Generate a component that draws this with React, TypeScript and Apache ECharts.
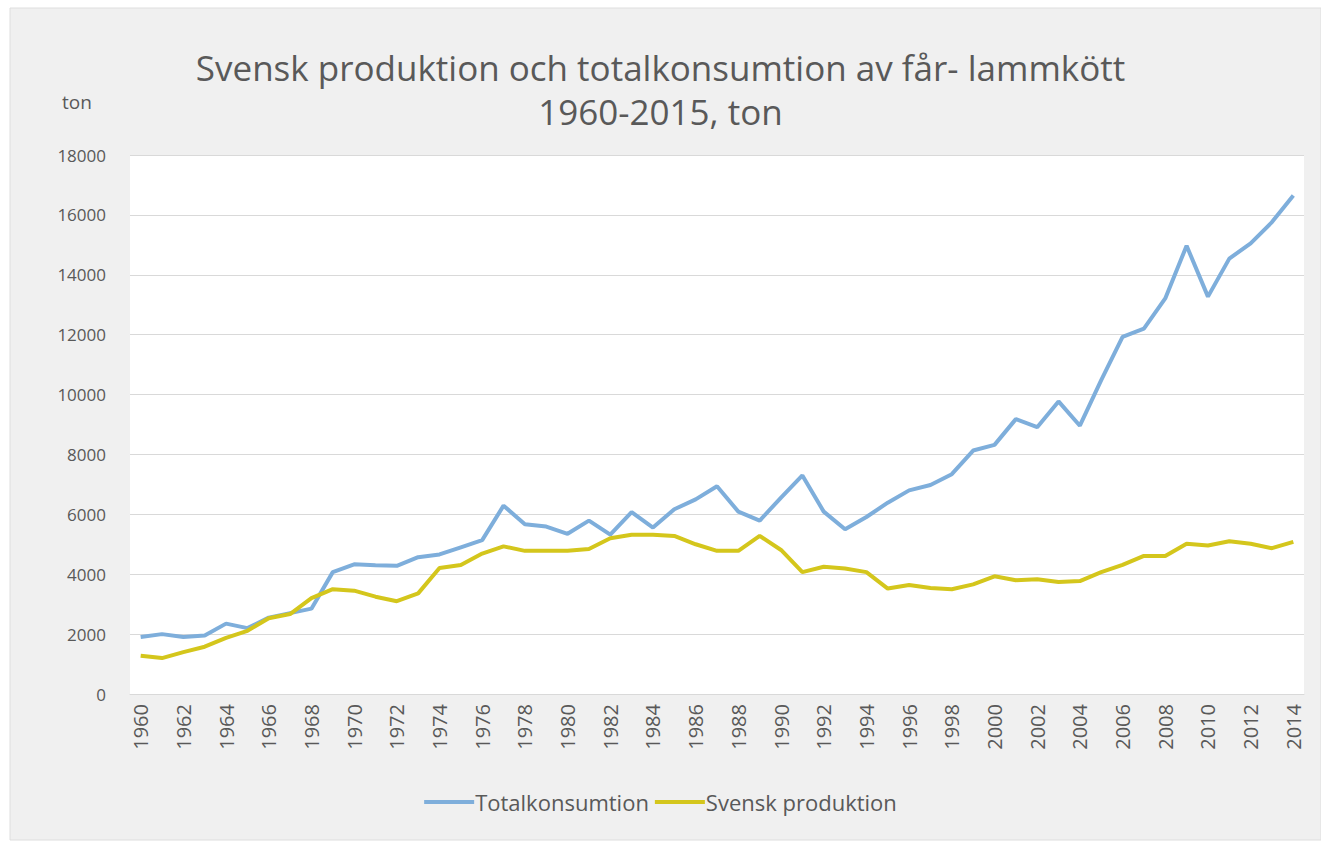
import React, { useEffect, useRef } from "react";
import * as echarts from "echarts";

const years: string[] = [];
for (let y = 1960; y <= 2014; y++) years.push(String(y));

const totalkonsumtion = [
  1900, 2000, 1900, 1950, 2350, 2200, 2550, 2700, 2850, 4070,
  4330, 4300, 4280, 4570, 4660, 4900, 5140, 6290, 5670, 5590,
  5350, 5790, 5320, 6070, 5560, 6170, 6500, 6940, 6090, 5790,
  6560, 7300, 6090, 5500, 5910, 6390, 6800, 6980, 7340, 8130,
  8320, 9180, 8910, 9770, 8960, 10480, 11930, 12200, 13210, 14970,
  13270, 14540, 15050, 15760, 16650,
];

const svenskProduktion = [
  1280, 1200, 1400, 1580, 1875, 2110, 2530, 2670, 3200, 3500,
  3450, 3250, 3100, 3360, 4210, 4310, 4690, 4930, 4780, 4780,
  4780, 4840, 5200, 5320, 5320, 5280, 5000, 4780, 4780, 5280,
  4810, 4070, 4250, 4190, 4070, 3520, 3640, 3540, 3500, 3660,
  3930, 3800, 3830, 3740, 3770, 4070, 4310, 4610, 4610, 5020,
  4960, 5100, 5020, 4870, 5080,
];

const seriesNames = ["Totalkonsumtion", "Svensk produktion"];
const titleLines = ["Svensk produktion och totalkonsumtion av får- lammkött", "1960-2015, ton"];
const yUnit = "ton";

const FONT = '"Open Sans", sans-serif';

export default function App() {
  const ref = useRef<HTMLDivElement>(null);
  useEffect(() => {
    document.body.style.margin = "0";
    document.body.style.background = "#ffffff";
    const chart = echarts.init(ref.current!, undefined, { renderer: "svg" });
    chart.setOption({
      animation: false,
      backgroundColor: "#ffffff",
      graphic: [
        {
          type: "rect",
          z: -10,
          silent: true,
          shape: { x: 10, y: 8, width: 1311, height: 832 },
          style: { fill: "#f0f0f0", stroke: "#dedede", lineWidth: 1 },
        },
        {
          type: "text",
          left: 62,
          top: 92,
          style: { text: yUnit, fontSize: 19, fill: "#595959", fontFamily: FONT },
        },
      ],
      title: {
        text: titleLines.join("\n"),
        left: "center",
        top: 40,
        textStyle: {
          fontSize: 35,
          fontWeight: "normal",
          color: "#595959",
          fontFamily: FONT,
          lineHeight: 44,
        },
      },
      legend: {
        bottom: 24,
        left: "center",
        itemWidth: 50,
        itemHeight: 4,
        itemGap: 6,
        icon: "rect",
        textStyle: { fontSize: 22, color: "#595959", fontFamily: FONT, padding: [0, 0, 0, -4] },
        data: seriesNames,
      },
      grid: {
        left: 130,
        right: 17,
        top: 155,
        bottom: 148,
        show: true,
        backgroundColor: "#ffffff",
        borderWidth: 0,
      },
      xAxis: {
        type: "category",
        data: years,
        boundaryGap: true,
        axisLine: { show: true, lineStyle: { color: "#d9d9d9", width: 1 } },
        axisTick: { show: false },
        axisLabel: {
          rotate: 90,
          interval: 1,
          fontSize: 20,
          color: "#595959",
          fontFamily: FONT,
          margin: 10,
        },
      },
      yAxis: {
        type: "value",
        min: 0,
        max: 18000,
        interval: 2000,
        axisLine: { show: false },
        axisTick: { show: false },
        splitLine: { lineStyle: { color: "#d9d9d9", width: 1 } },
        axisLabel: {
          fontSize: 17,
          color: "#595959",
          fontFamily: FONT,
          margin: 24,
          formatter: (v: number) => String(v),
        },
      },
      series: [
        {
          name: seriesNames[0],
          type: "line",
          data: totalkonsumtion,
          symbol: "none",
          lineStyle: { color: "#7eaedb", width: 4 },
          itemStyle: { color: "#7eaedb" },
        },
        {
          name: seriesNames[1],
          type: "line",
          data: svenskProduktion,
          symbol: "none",
          lineStyle: { color: "#d4c61c", width: 4 },
          itemStyle: { color: "#d4c61c" },
        },
      ],
    });
    return () => chart.dispose();
  }, []);
  return <div ref={ref} style={{ width: 1321, height: 842 }} />;
}
